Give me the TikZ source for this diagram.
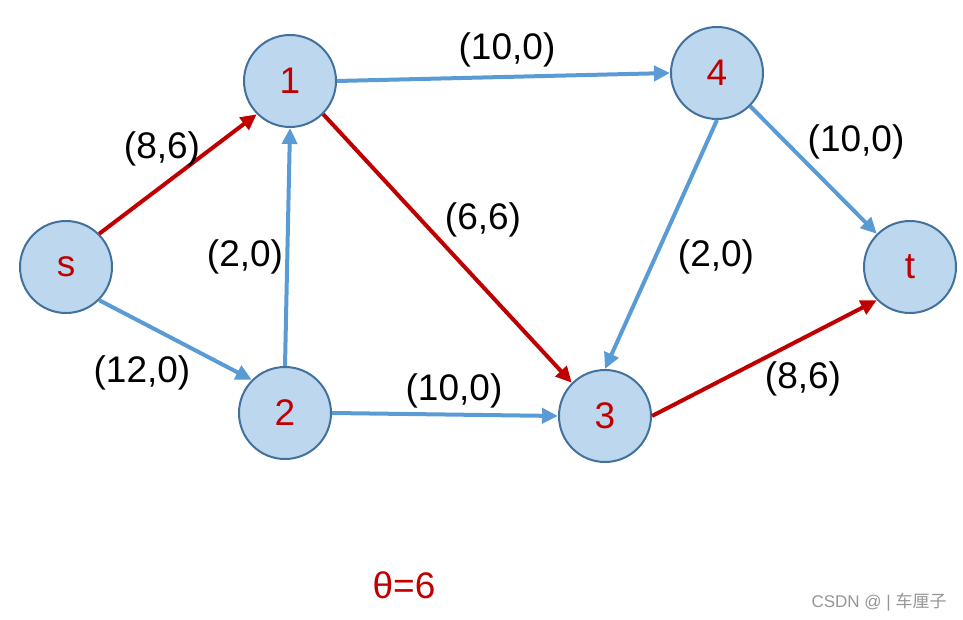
\documentclass[tikz,border=0pt]{standalone}
\usepackage{fontspec}
\setmainfont{Liberation Sans}
\newfontfamily\cjk{Noto Sans CJK SC}
\usetikzlibrary{arrows.meta}
\definecolor{nodefill}{RGB}{189,215,238}
\definecolor{nodeline}{RGB}{65,113,156}
\definecolor{edgeblue}{RGB}{91,155,213}
\definecolor{edgered}{RGB}{192,0,0}
\definecolor{wmgray}{RGB}{150,150,150}
\tikzset{
  vertex/.style={circle, draw=nodeline, fill=nodefill, line width=1pt,
    minimum size=46pt, inner sep=0pt, text=edgered, font=\fontsize{18.5}{20}\selectfont},
  blueedge/.style={draw=edgeblue, line width=2pt, -{Triangle[length=8pt,width=7.5pt]}},
  rededge/.style={draw=edgered, line width=2pt, -{Triangle[length=8pt,width=7.5pt]}},
  elabel/.style={font=\fontsize{18.5}{20}\selectfont, text=black, inner sep=0pt},
}
\begin{document}
\begin{tikzpicture}[x=0.5pt,y=-0.5pt]
\useasboundingbox (0,0) rectangle (963,620);
\node[vertex] (s) at (66,267) {s};
\node[vertex] (n1) at (290,81) {1};
\node[vertex] (n4) at (717,73) {4};
\node[vertex] (t) at (910,267) {t};
\node[vertex] (n2) at (285,413) {2};
\node[vertex] (n3) at (605,416) {3};

\draw[rededge] (s.north east) -- (n1.south west);
\draw[blueedge] (s.south east) -- (n2.north west);
\draw[blueedge] (n2.north) -- (n1.south);
\draw[blueedge] (n1.east) -- (n4.west);
\draw[rededge] (n1.south east) -- (n3.north west);
\draw[blueedge] (n4.south) -- (n3.north);
\draw[blueedge] (n4.south east) -- (t.north west);
\draw[blueedge] (n2.east) -- (n3.west);
\draw[rededge] (n3.east) -- (t.south west);

\node[elabel] (l14) at (507,50) {(10,0)};
\node[elabel] (ls1) at (162,149) {(8,6)};
\node[elabel] (l4t) at (856,142) {(10,0)};
\node[elabel] (l13) at (483,220) {(6,6)};
\node[elabel] (l21) at (245,257) {(2,0)};
\node[elabel] (l43) at (716,257) {(2,0)};
\node[elabel] (ls2) at (142,373) {(12,0)};
\node[elabel] (l23) at (454,391) {(10,0)};
\node[elabel] (l3t) at (803,379) {(8,6)};

\node[elabel, text=edgered] (theta) at (404,585) {θ=6};
\node[font=\fontsize{8.5}{10}\selectfont, text=wmgray, inner sep=0pt] (wm) at (879,602) {CSDN @ | {\cjk 车厘子}};
\end{tikzpicture}
\end{document}
